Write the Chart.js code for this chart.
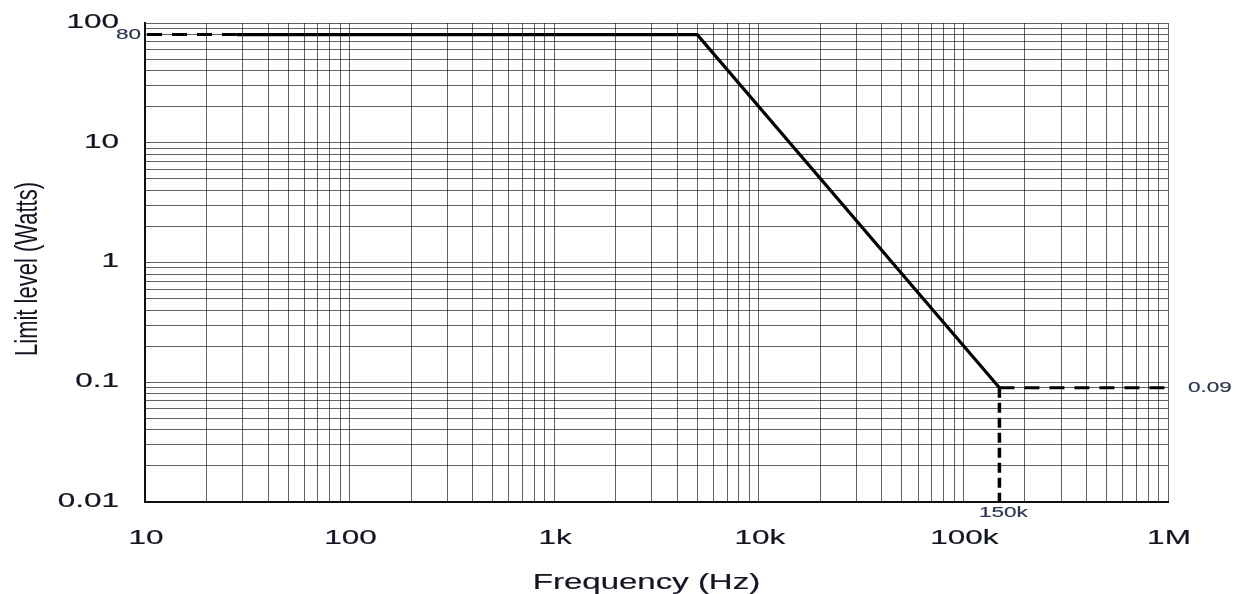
<!DOCTYPE html>
<html>
<head>
<meta charset="utf-8">
<title>Limit level vs frequency</title>
<script src="https://cdn.jsdelivr.net/npm/chart.js@4"></script>
<style>
  html, body { margin: 0; padding: 0; background: #fff; }
  #wrap { width: 1251px; height: 594px; position: relative; }
</style>
</head>
<body>
<div id="wrap"><canvas id="chart"></canvas></div>
<script>
"use strict";

// Power limit: flat at 80 W up to 5 kHz, falls as 1/f^2 to 0.09 W at 150 kHz, then flat
const leadFreq = [10, 28];
const leadWatts = [80, 80];
const limitFreq = [28, 5000, 150000];
const limitWatts = [80, 80, 0.09];
const tailFreq = [150000, 1000000];
const tailWatts = [0.09, 0.09];
const dropFreq = [150000, 150000];
const dropWatts = [0.09, 0.01];

const xTickValues = [10, 100, 1e3, 1e4, 1e5, 1e6];
const xTickLabels = ["10", "100", "1k", "10k", "100k", "1M"];
const yTickValues = [100, 10, 1, 0.1, 0.01];
const yTickLabels = ["100", "10", "1", "0.1", "0.01"];

const INK = "#121622";
const NOTE = "#2c3650";
const STRETCH = 1.5;
const FONT = "'Liberation Sans', Arial, sans-serif";

function toPoints(xs, ys) {
    return xs.map((x, i) => ({ x: x, y: ys[i] }));
}

// 1..9 x 10^n grid lines between min and max
function logGrid(min, max) {
    const out = [];
    for (let d = min; d < max * 0.999; d *= 10) {
        for (let m = 1; m < 10; m++) {
            out.push({ value: Number((d * m).toPrecision(6)) });
        }
    }
    out.push({ value: max });
    return out;
}

// text drawn wide, the way the chart's lettering is set
function wideText(ctx, text, x, y, size, align, baseline, color) {
    ctx.save();
    ctx.font = size + "px " + FONT;
    ctx.fillStyle = color || INK;
    ctx.strokeStyle = color || INK;
    ctx.lineWidth = 0.2;
    ctx.textAlign = align;
    ctx.textBaseline = baseline;
    ctx.translate(x, y);
    ctx.scale(STRETCH, 1);
    ctx.fillText(text, 0, 0);
    ctx.strokeText(text, 0, 0);
    ctx.restore();
}

const labelPlugin = {
    id: "axisLabels",
    afterDraw(chart) {
        const ctx = chart.ctx;
        const xs = chart.scales.x;
        const ys = chart.scales.y;
        const area = chart.chartArea;

        yTickValues.forEach((v, i) => {
            wideText(ctx, yTickLabels[i], area.left - 26, ys.getPixelForValue(v) - 1, 21, "right", "middle");
        });
        xTickValues.forEach((v, i) => {
            wideText(ctx, xTickLabels[i], xs.getPixelForValue(v) + 1, area.bottom + 36, 21, "center", "middle");
        });

        wideText(ctx, "Frequency (Hz)", (area.left + area.right) / 2 - 10, 589, 22, "center", "alphabetic");

        // y title, rotated; thickened across the baseline like the rest of the lettering
        ctx.save();
        ctx.font = "22px " + FONT;
        ctx.fillStyle = INK;
        ctx.textAlign = "center";
        ctx.textBaseline = "alphabetic";
        ctx.translate(37, 269);
        ctx.scale(1.45, 1);
        ctx.rotate(-Math.PI / 2);
        ctx.fillText("Limit level (Watts)", 0, 0);
        ctx.restore();

        // callouts at the corners of the limit curve
        wideText(ctx, "80", area.left - 4, ys.getPixelForValue(leadWatts[0]), 15, "right", "middle", NOTE);
        wideText(ctx, "0.09", area.right + 20, ys.getPixelForValue(tailWatts[1]), 15, "left", "middle", NOTE);
        wideText(ctx, "150k", xs.getPixelForValue(dropFreq[0]) + 4, area.bottom + 11, 15, "center", "middle", NOTE);
    }
};

const gridColor = "rgba(0, 0, 0, 0.62)";

new Chart(document.getElementById("chart"), {
    type: "line",
    data: {
        datasets: [
            {
                data: toPoints(leadFreq, leadWatts),
                borderColor: "#000",
                borderWidth: 3,
                borderDash: [15, 10],
                borderDashOffset: 23
            },
            {
                data: toPoints(limitFreq, limitWatts),
                borderColor: "#000",
                borderWidth: 3.2
            },
            {
                data: toPoints(tailFreq, tailWatts),
                borderColor: "#000",
                borderWidth: 3,
                borderDash: [15, 10]
            },
            {
                data: toPoints(dropFreq, dropWatts),
                borderColor: "#000",
                borderWidth: 3.5,
                borderDash: [10, 5]
            }
        ]
    },
    options: {
        responsive: true,
        maintainAspectRatio: false,
        animation: false,
        events: [],
        layout: { padding: { top: 23, right: 83, left: 0, bottom: 0 } },
        elements: {
            point: { radius: 0 },
            line: { tension: 0, borderCapStyle: "butt", borderJoinStyle: "miter" }
        },
        plugins: {
            legend: { display: false },
            tooltip: { enabled: false }
        },
        scales: {
            x: {
                type: "logarithmic",
                min: 10,
                max: 1e6,
                afterBuildTicks: s => { s.ticks = logGrid(10, 1e6); },
                afterFit: s => { s.height = 92; },
                ticks: { display: false, autoSkip: false },
                grid: { color: gridColor, lineWidth: 1, drawTicks: false },
                border: { color: "#111", width: 2 }
            },
            y: {
                type: "logarithmic",
                min: 0.01,
                max: 100,
                afterBuildTicks: s => { s.ticks = logGrid(0.01, 100); },
                afterFit: s => { s.width = 145; },
                ticks: { display: false, autoSkip: false },
                grid: { color: gridColor, lineWidth: 1, drawTicks: false },
                border: { color: "#111", width: 2 }
            }
        }
    },
    plugins: [labelPlugin]
});
</script>
</body>
</html>
